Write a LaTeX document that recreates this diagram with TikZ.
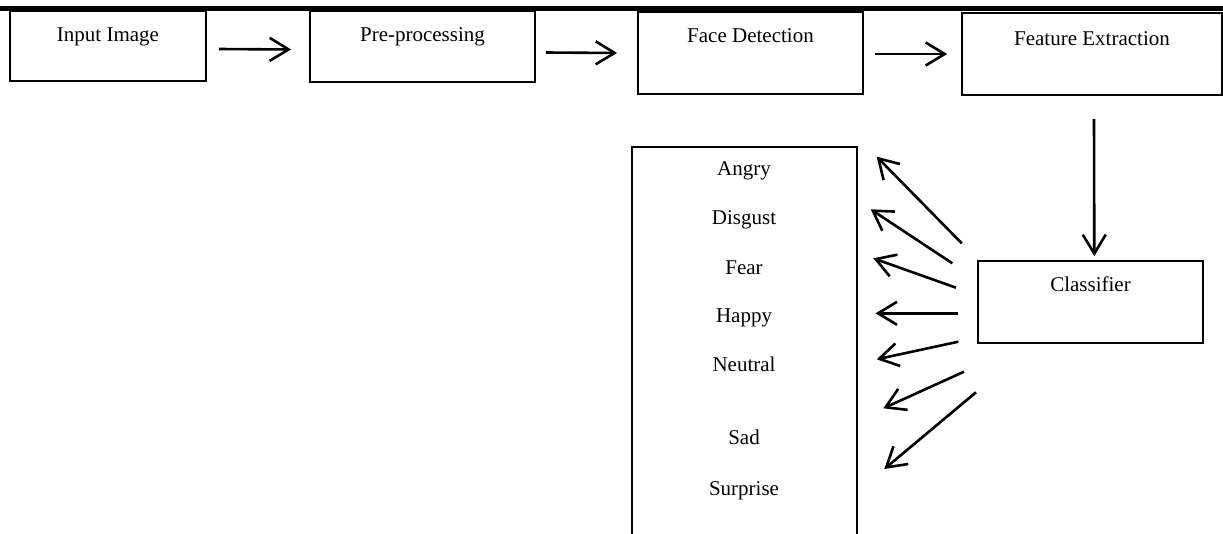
\documentclass[tikz,border=0pt]{standalone}
\usepackage{fontspec}
\setmainfont{Liberation Serif}
\usetikzlibrary{arrows.meta}
\tikzset{
  boxnode/.style={draw, line width=1.7pt, inner sep=0pt, anchor=base,
    font=\fontsize{21}{25}\selectfont},
  lbl/.style={inner sep=0pt, anchor=base, font=\fontsize{21}{25}\selectfont},
  arr/.style={line width=2.6pt, -{Straight Barb[length=19pt,width=23pt]}}
}
\begin{document}
\begin{tikzpicture}[x=1pt,y=-1pt]
\useasboundingbox (0,0) rectangle (1223,533);
% top rule
\draw[line width=4.8pt] (0,8.3) -- (1223,8.3);
% pipeline boxes
\node[boxnode, minimum width=196pt, text height=30pt, text depth=40pt] (in) at (108,41) {Input Image};
\node[boxnode, minimum width=225pt, text height=30pt, text depth=41pt] (pre) at (422.5,41) {Pre-processing};
\node[boxnode, minimum width=225pt, text height=30pt, text depth=52pt] (face) at (750.5,42) {Face Detection};
\node[boxnode, minimum width=260pt, text height=32pt, text depth=50pt] (feat) at (1092,45) {Feature Extraction};
\node[boxnode, minimum width=225pt, text height=30pt, text depth=52pt] (cls) at (1090.5,291) {Classifier};
% emotion box (continues past the bottom edge)
\node[draw, line width=1.7pt, inner sep=0pt, minimum width=225pt, minimum height=420pt, anchor=north] (emo) at (744.5,146) {};
% emotion labels
\node[lbl] (angry) at (744,175.7) {Angry};
\node[lbl] (disgust) at (744,224.5) {Disgust};
\node[lbl] (fear) at (744,274) {Fear};
\node[lbl] (happy) at (744,322.5) {Happy};
\node[lbl] (neutral) at (744,371.5) {Neutral};
\node[lbl] (sad) at (744,444.7) {Sad};
\node[lbl] (surprise) at (744,495) {Surprise};
% pipeline arrows
\draw[arr] ([shift={(12,3)}]in.east) -- ([shift={(-18,3)}]pre.west);
\draw[arr] ([shift={(10,6)}]pre.east) -- ([shift={(-20,0)}]face.west);
\draw[arr] ([shift={(11,1)}]face.east) -- ([shift={(-14,0)}]feat.west);
\draw[arr] ([shift={(2,23)}]feat.south) -- ([shift={(3.8,-4)}]cls.north);
% classifier fan-out arrows
\coordinate (s1) at (961.7,243.3); \coordinate (t1) at (876.7,156.7);
\coordinate (s2) at (952.3,263.3); \coordinate (t2) at (870.7,209.3);
\coordinate (s3) at (956,287.7);   \coordinate (t3) at (873.3,258.3);
\coordinate (s4) at (958.3,313.3); \coordinate (t4) at (875.5,313.3);
\coordinate (s5) at (958.3,341.7); \coordinate (t5) at (876.7,359.3);
\coordinate (s6) at (964,371.7);   \coordinate (t6) at (883.3,408.3);
\coordinate (s7) at (976,392.3);   \coordinate (t7) at (884.3,469);
\foreach \i in {1,...,7} { \draw[arr] (s\i) -- (t\i); }
\end{tikzpicture}
\end{document}
